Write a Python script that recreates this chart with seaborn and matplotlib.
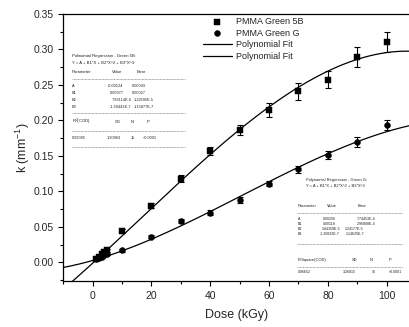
import numpy as np
import pandas as pd
import matplotlib
matplotlib.use("Agg")
import matplotlib.pyplot as plt
from matplotlib.lines import Line2D
from matplotlib.ticker import MultipleLocator
import seaborn as sns

# -------------------------- data --------------------------
dose = [1, 2, 3, 4, 5, 10, 20, 30, 40, 50, 60, 70, 80, 90, 100]
k_5b = [0.005, 0.008, 0.011, 0.014, 0.017, 0.044, 0.080, 0.118, 0.157,
        0.186, 0.215, 0.241, 0.257, 0.289, 0.311]
err_5b = [0.002, 0.002, 0.002, 0.002, 0.002, 0.003, 0.004, 0.005, 0.006,
          0.007, 0.010, 0.012, 0.012, 0.014, 0.014]
k_g = [0.004, 0.006, 0.008, 0.010, 0.011, 0.017, 0.036, 0.058, 0.070,
       0.088, 0.111, 0.131, 0.151, 0.170, 0.194]
err_g = [0.001, 0.001, 0.001, 0.001, 0.001, 0.002, 0.002, 0.003, 0.003,
         0.004, 0.004, 0.005, 0.006, 0.007, 0.007]

# polynomial fit coefficients (A, B1, B2, B3) as printed in the chart
coef_5b = [-0.00124, 0.00377, 7.93114e-6, -1.59443e-7]
coef_g = [0.00256, 0.00118, 1.84359e-5, -1.20832e-7]

df = pd.DataFrame({"dose": dose, "k_5b": k_5b, "err_5b": err_5b,
                   "k_g": k_g, "err_g": err_g})

x_fit = np.linspace(-10, 107.6, 300)
fit = pd.DataFrame({
    "x": x_fit,
    "fit_5b": np.polyval(coef_5b[::-1], x_fit),
    "fit_g": np.polyval(coef_g[::-1], x_fit),
})

# -------------------------- style --------------------------
sns.set_style("ticks")
plt.rcParams['font.family'] = ['Liberation Sans', 'DejaVu Sans']
plt.rcParams['mathtext.default'] = 'regular'

W, H = 409, 327
fig = plt.figure(figsize=(W / 100, H / 100), dpi=100)
ax = fig.add_axes([63.3 / W, 1 - 281 / H, 1 - 63.3 / W, (281 - 14) / H])

# fits
sns.lineplot(data=fit, x="x", y="fit_5b", color="black", lw=0.9, ax=ax,
             label="Polynomial Fit")
sns.lineplot(data=fit, x="x", y="fit_g", color="black", lw=0.9, ax=ax,
             label="Polynomial Fit ")

# error bars
ax.errorbar(df["dose"], df["k_5b"], yerr=df["err_5b"], fmt="none",
            ecolor="black", elinewidth=0.8, capsize=2.2, capthick=0.8)
ax.errorbar(df["dose"], df["k_g"], yerr=df["err_g"], fmt="none",
            ecolor="black", elinewidth=0.8, capsize=2.2, capthick=0.8)

# points
sns.scatterplot(data=df, x="dose", y="k_5b", marker="s", color="black",
                s=16, edgecolor="black", ax=ax, label="PMMA Green 5B", zorder=3)
sns.scatterplot(data=df, x="dose", y="k_g", marker="o", color="black",
                s=18, edgecolor="black", ax=ax, label="PMMA Green G", zorder=3)

ax.set_xlim(-10, 107.6)
ax.set_ylim(-0.0264, 0.35)
ax.xaxis.set_major_locator(MultipleLocator(20))
ax.xaxis.set_minor_locator(MultipleLocator(10))
ax.yaxis.set_major_locator(MultipleLocator(0.05))
ax.yaxis.set_minor_locator(MultipleLocator(0.025))
ax.yaxis.set_major_formatter(matplotlib.ticker.FormatStrFormatter("%.2f"))
ax.tick_params(which="major", direction="out", length=3.5, width=0.8,
               labelsize=7.5, color="black")
ax.tick_params(which="minor", direction="out", length=2, width=0.8,
               color="black")
for s in ["left", "bottom", "top"]:
    ax.spines[s].set_linewidth(0.9)
    ax.spines[s].set_color("black")
ax.spines["right"].set_visible(False)

ax.set_xlabel("Dose (kGy)", fontsize=9, labelpad=6)
ax.set_ylabel("k (mm$^{-1}$)", fontsize=9, labelpad=1)

# legend
h, l = ax.get_legend_handles_labels()
order = [l.index("PMMA Green 5B"), l.index("PMMA Green G"),
         l.index("Polynomial Fit"), l.index("Polynomial Fit ")]
leg = ax.legend([h[i] for i in order],
                ["PMMA Green 5B", "PMMA Green G", "Polynomial Fit", "Polynomial Fit"],
                loc="upper left",
                bbox_to_anchor=((203 - 63.3) / 345.7, (281 - 17) / 267),
                frameon=False, fontsize=6.5, handlelength=3.2,
                handletextpad=0.4, labelspacing=0.3, borderpad=0,
                borderaxespad=0)


# -------------------------- fit tables --------------------------
def put(x, y, s, size):
    fig.text(x / W, 1 - y / H, s, fontsize=size, va="center", ha="left",
             color="#222222")


def rule(x0, x1, y):
    fig.add_artist(Line2D([x0 / W, x1 / W], [1 - y / H, 1 - y / H],
                          lw=0.4, ls=(0, (1.5, 1)), color="#555555"))


fs1 = 3.1
fn1 = 2.8
put(72, 55.7, "Polinomial Regression - Green 5B:", fs1)
put(72, 62.7, "Y = A + B1*X + B2*X^2 + B3*X^3", fs1)
put(72, 71.7, "Parameter", fs1)
put(112, 71.7, "Value", fs1)
put(137, 71.7, "Error", fs1)
rule(72, 185, 79)
rows1 = [("A", "-0.00124", "0.00043", 108, 132),
         ("B1", "0.00377", "0.00027", 110, 132),
         ("B2", "7.93114E-6", "1.22595E-5", 111.5, 134),
         ("B3", "-1.59443E-7", "1.15877E-7", 110, 134)]
for (name, val, err, xv, xe), y in zip(rows1, [85.7, 92.7, 99.7, 106.7]):
    put(72, y, name, fn1)
    put(xv, y, val, fn1)
    put(xe, y, err, fn1)
rule(72, 185, 112.7)
put(72, 121.7, "R$^2$(COD)", fs1)
put(115, 121.7, "SD", fs1)
put(130.7, 121.7, "N", fs1)
put(146.7, 121.7, "P", fs1)
rule(72, 185, 130.7)
put(72, 138.3, "0.99095", fn1)
put(107, 138.3, "1.90963", fn1)
put(130.7, 138.3, "15", fn1)
put(143, 138.3, "<0.0001", fn1)
rule(72, 185, 147.3)

fs2 = 2.9
fn2 = 2.6
put(306, 180, "Polynomial Regression - Green G:", fs2)
put(306, 186, "Y = A + B1*X + B2*X^2 + B3*X^3", fs2)
put(297.7, 205.7, "Parameter", fs2)
put(326.7, 205.7, "Value", fs2)
put(357.7, 205.7, "Error", fs2)
rule(297, 402, 212.7)
rows2 = [("A", "0.00256", "7.74453E-4", 323.3, 356.7),
         ("B1", "0.00118", "2.96808E-4", 323.3, 356.7),
         ("B2", "1.84359E-5", "1.24177E-5", 322, 345),
         ("B3", "-1.20832E-7", "1.14625E-7", 320, 346)]
for (name, val, err, xv, xe), y in zip(rows2, [219, 224.3, 229.3, 234.3]):
    put(297.7, y, name, fn2)
    put(xv, y, val, fn2)
    put(xe, y, err, fn2)
rule(297, 402, 244.3)
put(297.7, 260, "R-Square(COD)", fs2)
put(351.7, 260, "SD", fs2)
put(370, 260, "N", fs2)
put(389, 260, "P", fs2)
rule(297, 402, 266.7)
put(297.7, 272.3, "0.96652", fn2)
put(343.3, 272.3, "3.26815", fn2)
put(371.7, 272.3, "15", fn2)
put(389.3, 272.3, "<0.0001", fn2)

fig.savefig("out.png", dpi=100)
